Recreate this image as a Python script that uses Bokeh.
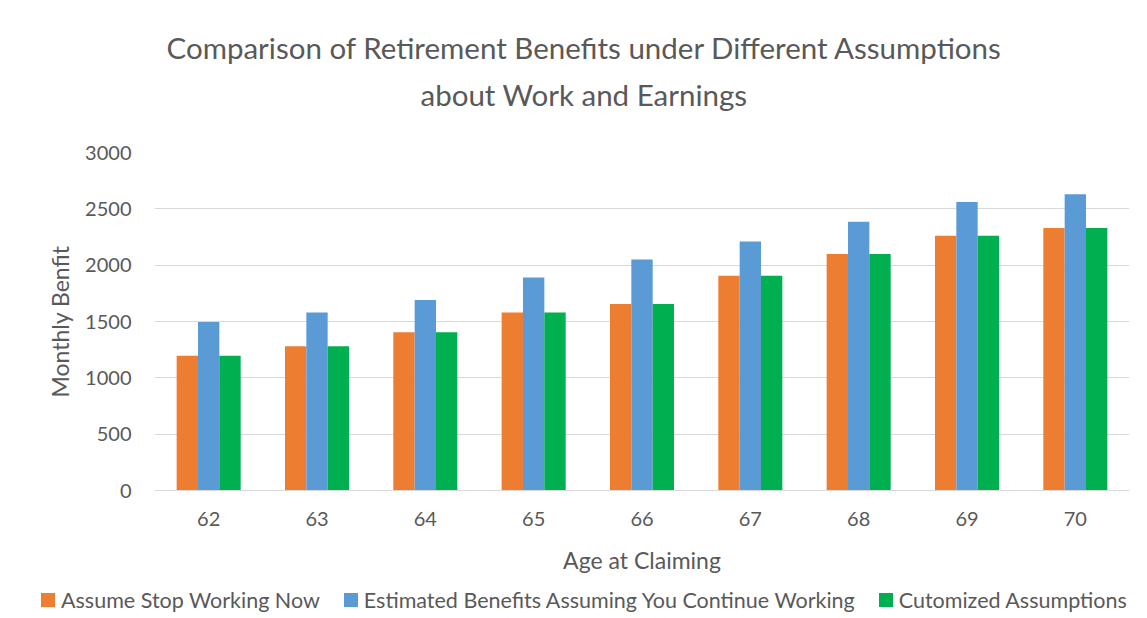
from bokeh.plotting import figure
from bokeh.models import (FactorRange, SingleIntervalTicker, ColumnDataSource, Title, Div)
from bokeh.layouts import column
from bokeh.transform import dodge
from bokeh.embed import file_html
from bokeh.resources import INLINE

ages = ["62", "63", "64", "65", "66", "67", "68", "69", "70"]
stop_now = [1195, 1280, 1405, 1580, 1655, 1905, 2100, 2260, 2330]
continue_working = [1495, 1580, 1690, 1890, 2050, 2210, 2385, 2560, 2630]
customized = [1195, 1280, 1405, 1580, 1655, 1905, 2100, 2260, 2330]
series_names = ["Assume Stop Working Now",
                "Estimated Benefits Assuming You Continue Working",
                "Cutomized Assumptions"]
colors = ["#ED7D31", "#5B9BD5", "#00B050"]
title_lines = ["Comparison of Retirement Benefits under Different Assumptions",
               "about Work and Earnings"]

FONT = "Lato"
TXT = "#595959"

src = ColumnDataSource(dict(age=ages, s0=stop_now, s1=continue_working, s2=customized))

p = figure(x_range=FactorRange(*ages), y_range=(0, 3000),
           width=1147, height=580, output_backend="svg", toolbar_location=None,
           title=None, min_border_left=154, min_border_right=18,
           min_border_top=152, min_border_bottom=90)
p.outline_line_color = None
p.background_fill_color = "white"
p.border_fill_color = "white"

w = 0.197
cols = ["s0", "s1", "s2"]
for i, (col, c) in enumerate(zip(cols, colors)):
    p.vbar(x=dodge("age", (i - 1) * w, range=p.x_range), top=col, width=w,
           source=src, fill_color=c, line_color=None)

p.x_range.range_padding = 0
p.x_range.group_padding = 0

p.yaxis.ticker = SingleIntervalTicker(interval=500)
p.ygrid.grid_line_color = "#d9d9d9"
p.xgrid.grid_line_color = None
p.yaxis.axis_line_color = None
p.yaxis.major_tick_line_color = None
p.yaxis.minor_tick_line_color = None
p.xaxis.axis_line_color = "#d9d9d9"
p.xaxis.major_tick_line_color = None
p.xaxis.minor_tick_line_color = None

for ax in (p.xaxis, p.yaxis):
    ax.major_label_text_font = FONT
    ax.major_label_text_color = TXT
    ax.major_label_text_font_size = "20px"
    ax.axis_label_text_font = FONT
    ax.axis_label_text_color = TXT
    ax.axis_label_text_font_size = "23px"
    ax.axis_label_text_font_style = "normal"

p.yaxis.major_label_standoff = 17
p.xaxis.major_label_standoff = 15
p.xaxis.axis_label = "Age at Claiming"
p.yaxis.axis_label = "Monthly Benfit"
p.xaxis.axis_label_standoff = 17
p.yaxis.axis_label_standoff = 8

# spacer nearest the plot, then second title line, then first line
p.add_layout(Title(text=" ", text_font_size="10px", standoff=28), "above")
p.add_layout(Title(text=title_lines[1], align="left", offset=266, standoff=0,
                   text_font=FONT, text_font_size="29.5px", text_color=TXT,
                   text_font_style="normal"), "above")
p.add_layout(Title(text=title_lines[0], align="left", offset=12, standoff=20,
                   text_font=FONT, text_font_size="29.5px", text_color=TXT,
                   text_font_style="normal"), "above")

# legend row below the chart
parts = []
for n, c in zip(series_names, colors):
    parts.append(
        f'<span style="display:inline-block;width:14px;height:14px;background:{c};'
        f'margin-right:6px;vertical-align:middle;"></span>'
        f'<span style="vertical-align:middle;margin-right:24px;">{n}</span>')
legend_html = (f'<div style="height:38px;line-height:24px;padding-left:36px;'
               f'font-family:{FONT};font-size:21.5px;color:{TXT};white-space:nowrap;">'
               + "".join(parts) + '</div>')
legend_div = Div(text=legend_html, width=1147, height=38)

layout = column(p, legend_div, spacing=0)
open("out.html", "w").write(file_html(layout, INLINE))
